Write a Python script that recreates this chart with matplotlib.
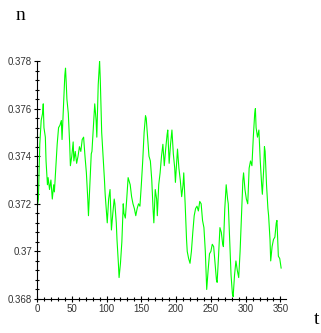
import numpy as np
import matplotlib
matplotlib.use("Agg")
import matplotlib.pyplot as plt
from matplotlib.ticker import MultipleLocator, FuncFormatter

# values (t, n)
t = [0, 2, 4, 6, 8, 9, 10, 12, 13, 15, 16, 18, 20, 22, 24, 25, 27, 29, 31, 33,
     35, 36, 38, 40, 41, 42, 43, 45, 47, 48, 50, 52, 53, 55, 57, 59, 61, 63, 65, 67,
     69, 71, 73, 74, 76, 78, 79, 81, 83, 85, 86, 88, 90, 91, 93, 95, 97, 98, 100, 101,
     103, 105, 106, 107, 109, 111, 112, 114, 115, 117, 118, 120, 122, 124, 125, 127, 129, 131, 132, 134,
     136, 138, 140, 142, 144, 146, 148, 150, 152, 154, 156, 157, 159, 161, 163, 165, 167, 168, 170, 172,
     173, 175, 177, 179, 181, 183, 185, 187, 188, 190, 192, 194, 196, 198, 199, 201, 202, 204, 206, 208,
     210, 211, 213, 215, 216, 218, 220, 222, 224, 226, 228, 230, 232, 234, 236, 238, 240, 242, 244, 246,
     248, 250, 252, 254, 256, 258, 259, 261, 263, 265, 267, 268, 270, 272, 274, 275, 277, 279, 281, 282,
     284, 286, 288, 290, 292, 294, 296, 297, 299, 301, 303, 305, 307, 309, 311, 313, 314, 315, 317, 319,
     321, 323, 324, 326, 327, 328, 330, 332, 333, 335, 336, 338, 340, 342, 344, 345, 346, 347, 349, 351]
n = [0.3718, 0.3722, 0.3745, 0.3755, 0.3758, 0.3762, 0.3752, 0.3748, 0.3738, 0.3728,
     0.3731, 0.3726, 0.3730, 0.3722, 0.3728, 0.3725, 0.3735, 0.3745, 0.3752, 0.3753,
     0.3755, 0.3747, 0.3760, 0.3774, 0.3777, 0.3771, 0.3764, 0.3758, 0.3745, 0.3736,
     0.3740, 0.3746, 0.3738, 0.3742, 0.3737, 0.3740, 0.3744, 0.3742, 0.3747, 0.3748,
     0.3740, 0.3733, 0.3722, 0.3715, 0.3728, 0.3741, 0.3742, 0.3752, 0.3762, 0.3755,
     0.3748, 0.3770, 0.3780, 0.3772, 0.3750, 0.3740, 0.3730, 0.3724, 0.3716, 0.3712,
     0.3722, 0.3726, 0.3718, 0.3709, 0.3716, 0.3722, 0.3720, 0.3712, 0.3705, 0.3695,
     0.3689, 0.3695, 0.3704, 0.3720, 0.3716, 0.3714, 0.3722, 0.3731, 0.3730, 0.3728,
     0.3723, 0.3720, 0.3718, 0.3715, 0.3718, 0.3720, 0.3719, 0.3728, 0.3738, 0.3750,
     0.3757, 0.3756, 0.3748, 0.3740, 0.3738, 0.3730, 0.3717, 0.3712, 0.3726, 0.3722,
     0.3715, 0.3728, 0.3733, 0.3740, 0.3745, 0.3736, 0.3743, 0.3749, 0.3751, 0.3737,
     0.3745, 0.3751, 0.3741, 0.3735, 0.3729, 0.3738, 0.3743, 0.3735, 0.3730, 0.3723,
     0.3728, 0.3733, 0.3720, 0.3705, 0.3700, 0.3697, 0.3695, 0.3700, 0.3708, 0.3715,
     0.3718, 0.3719, 0.3717, 0.3721, 0.3720, 0.3713, 0.3710, 0.3700, 0.3684, 0.3692,
     0.3699, 0.3700, 0.3703, 0.3702, 0.3695, 0.3688, 0.3687, 0.3698, 0.3710, 0.3708,
     0.3703, 0.3702, 0.3718, 0.3728, 0.3722, 0.3720, 0.3705, 0.3690, 0.3682, 0.3681,
     0.3690, 0.3696, 0.3692, 0.3689, 0.3700, 0.3715, 0.3730, 0.3733, 0.3726, 0.3722,
     0.3720, 0.3735, 0.3738, 0.3736, 0.3748, 0.3758, 0.3760, 0.3752, 0.3748, 0.3751,
     0.3738, 0.3728, 0.3724, 0.3735, 0.3744, 0.3742, 0.3728, 0.3718, 0.3715, 0.3705,
     0.3696, 0.3702, 0.3705, 0.3706, 0.3712, 0.3713, 0.3706, 0.3698, 0.3697, 0.3693]

xticks = [0, 50, 100, 150, 200, 250, 300, 350]
yticks = [0.368, 0.370, 0.372, 0.374, 0.376, 0.378]

fig = plt.figure(figsize=(3.21, 3.33), dpi=100)
ax = fig.add_axes([37 / 321, 34 / 333, 249 / 321, 238 / 333])

ax.plot(t, n, color="#00ff00", linewidth=0.8)

ax.set_xlim(0, 358)
ax.set_ylim(0.368, 0.378)
ax.spines["top"].set_visible(False)
ax.spines["right"].set_visible(False)
for s in ["left", "bottom"]:
    ax.spines[s].set_linewidth(0.8)

ax.set_xticks(xticks)
ax.set_yticks(yticks)
ax.xaxis.set_minor_locator(MultipleLocator(10))
ax.yaxis.set_minor_locator(MultipleLocator(0.0004))
ax.yaxis.set_major_formatter(FuncFormatter(lambda v, p: ("%.3f" % v).rstrip("0")))
ax.tick_params(which="major", direction="inout", length=5, width=0.8,
               labelsize=7, pad=1, labelcolor="#333333")
ax.tick_params(which="minor", direction="inout", length=3, width=0.8)
for lab in ax.get_xticklabels() + ax.get_yticklabels():
    lab.set_family("Liberation Sans")

fig.text(20 / 321, 1 - 16 / 333, "n", family="Liberation Serif", fontsize=14,
         ha="center", va="center")
fig.text(317 / 321, 1 - 320 / 333, "t", family="Liberation Serif", fontsize=14,
         ha="center", va="center")

fig.savefig("out.png", dpi=100)
